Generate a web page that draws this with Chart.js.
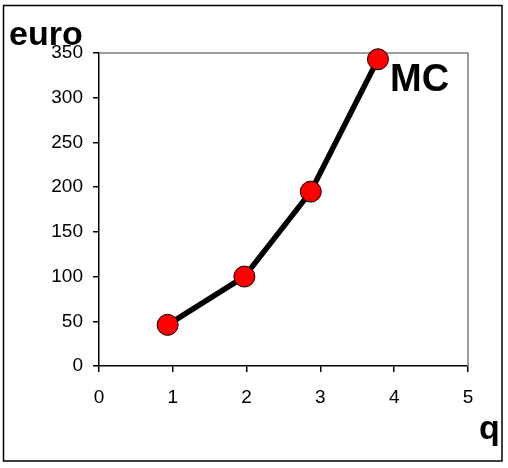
<!DOCTYPE html>
<html>
<head>
<meta charset="utf-8">
<script src="https://cdn.jsdelivr.net/npm/chart.js@4/dist/chart.umd.min.js"></script>
<style>
  body { margin: 0; background: #fff; }
  canvas { display: block; }
</style>
</head>
<body>
<canvas id="mcChart" width="508" height="468"></canvas>
<script>
// data
const qValues = [0.93, 1.97, 2.87, 3.78];
const mcValues = [46, 100, 195, 343];
const xTickValues = [0, 1, 2, 3, 4, 5];
const yTickValues = [0, 50, 100, 150, 200, 250, 300, 350];
const yLabel = 'euro';
const xLabel = 'q';
const seriesLabel = 'MC';

const points = qValues.map((q, i) => ({ x: q, y: mcValues[i] }));

Chart.defaults.font.family = 'Liberation Sans';
Chart.defaults.font.size = 20;
Chart.defaults.color = '#000';

// frame, gray box on top/right and the big bold labels
const decorations = {
    id: 'decorations',
    beforeDatasetsDraw(chart) {
        const { ctx, chartArea } = chart;
        ctx.save();
        ctx.strokeStyle = '#808080';
        ctx.lineWidth = 1.5;
        ctx.beginPath();
        ctx.moveTo(chartArea.left, chartArea.top);
        ctx.lineTo(chartArea.right, chartArea.top);
        ctx.lineTo(chartArea.right, chartArea.bottom);
        ctx.stroke();
        ctx.restore();
    },
    afterDraw(chart) {
        const { ctx } = chart;
        ctx.save();
        ctx.strokeStyle = '#000';
        ctx.lineWidth = 1.5;
        ctx.strokeRect(3.5, 5.5, 498.5, 455.5);

        ctx.fillStyle = '#000';
        ctx.textBaseline = 'alphabetic';
        ctx.textAlign = 'left';
        ctx.font = 'bold 34px "Liberation Sans"';
        ctx.fillText(yLabel, 9, 45);
        ctx.fillText(xLabel, 479, 439);
        ctx.font = 'bold 38px "Liberation Sans"';
        ctx.fillText(seriesLabel, 390, 91);
        ctx.restore();
    }
};

new Chart(document.getElementById('mcChart'), {
    type: 'scatter',
    data: {
        datasets: [{
            label: seriesLabel,
            data: points,
            showLine: true,
            borderColor: '#000',
            borderWidth: 5.5,
            pointRadius: 10.5,
            pointBackgroundColor: '#ff0000',
            pointBorderColor: '#000',
            pointBorderWidth: 1,
            clip: false
        }]
    },
    options: {
        responsive: false,
        animation: false,
        layout: { padding: { top: 53, right: 40, left: 0, bottom: 0 } },
        plugins: {
            legend: { display: false },
            tooltip: { enabled: false }
        },
        scales: {
            x: {
                type: 'linear',
                min: 0,
                max: 5,
                afterFit: scale => { scale.height = 102; },
                afterBuildTicks: scale => { scale.ticks = xTickValues.map(v => ({ value: v })); },
                ticks: { color: '#000', padding: 14, font: { size: 19 } },
                grid: { drawOnChartArea: false, drawTicks: true, tickLength: 6, color: '#000', lineWidth: 1.5 },
                border: { color: '#000', width: 1.5 }
            },
            y: {
                min: 0,
                max: 350,
                afterFit: scale => { scale.width = 99; },
                afterBuildTicks: scale => { scale.ticks = yTickValues.map(v => ({ value: v })); },
                ticks: { color: '#000', padding: 10, font: { size: 19 } },
                grid: { drawOnChartArea: false, drawTicks: true, tickLength: 6, color: '#000', lineWidth: 1.5 },
                border: { color: '#000', width: 1.5 }
            }
        }
    },
    plugins: [decorations]
});
</script>
</body>
</html>
